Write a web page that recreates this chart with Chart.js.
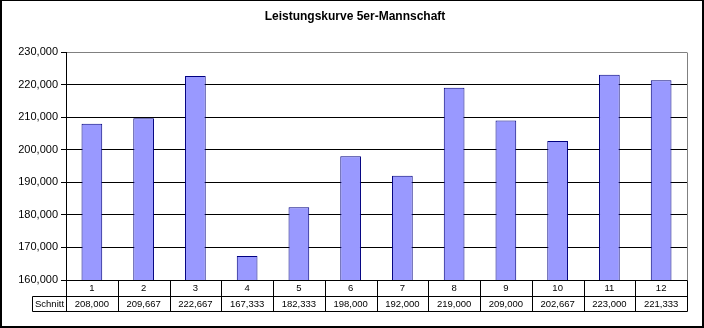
<!DOCTYPE html>
<html>
<head>
<meta charset="utf-8">
<script src="https://cdn.jsdelivr.net/npm/chart.js@4"></script>
<style>
  html, body { margin: 0; padding: 0; background: #fff; }
  #wrap { width: 704px; height: 328px; }
</style>
</head>
<body>
<div id="wrap"><canvas id="chart" width="704" height="328"></canvas></div>
<script>
// Daten
const categories = ['1', '2', '3', '4', '5', '6', '7', '8', '9', '10', '11', '12'];
const schnitt = [208000, 209667, 222667, 167333, 182333, 198000, 192000, 219000, 209000, 202667, 223000, 221333];
const seriesName = 'Schnitt';
const titleText = 'Leistungskurve 5er-Mannschaft';
const yMin = 160000, yMax = 230000, yStep = 10000;

// Farben
const C_BAR = '#9999FF';
const C_BAR_BORDER = '#000080';
const C_FRAME = '#808080';
const FONT = 'Arial, "Liberation Sans", sans-serif';

const fmt = v => v.toLocaleString('en-US');

// Titel, Rahmen und Datentabelle
const excelLook = {
  id: 'excelLook',
  afterDraw(chart) {
    const ctx = chart.ctx;
    const area = chart.chartArea;
    const xs = chart.scales.x;
    const half = (xs.getPixelForValue(1) - xs.getPixelForValue(0)) / 2;
    const crisp = p => Math.round(p) + 0.5;

    ctx.save();

    // Plotbereich rechts grau
    ctx.strokeStyle = C_FRAME;
    ctx.lineWidth = 1;
    ctx.beginPath();
    ctx.moveTo(crisp(area.right), crisp(area.top));
    ctx.lineTo(crisp(area.right), crisp(area.bottom));
    ctx.stroke();

    // Tabelle
    const row1 = area.bottom, row2 = 296, row3 = 311, labelLeft = 32;
    ctx.strokeStyle = '#000';
    ctx.beginPath();
    ctx.moveTo(crisp(area.left), crisp(row1));
    ctx.lineTo(crisp(area.right), crisp(row1));
    ctx.moveTo(crisp(labelLeft), crisp(row2));
    ctx.lineTo(crisp(area.right), crisp(row2));
    ctx.moveTo(crisp(labelLeft), crisp(row3));
    ctx.lineTo(crisp(area.right), crisp(row3));
    ctx.moveTo(crisp(labelLeft), crisp(row2));
    ctx.lineTo(crisp(labelLeft), crisp(row3));
    for (let i = 0; i <= categories.length; i++) {
      const bx = i < categories.length ? xs.getPixelForValue(i) - half : xs.getPixelForValue(i - 1) + half;
      ctx.moveTo(crisp(bx), crisp(row1));
      ctx.lineTo(crisp(bx), crisp(row3));
    }
    ctx.stroke();

    ctx.fillStyle = '#000';
    ctx.font = '9.5px ' + FONT;
    ctx.textAlign = 'center';
    ctx.textBaseline = 'middle';
    categories.forEach((c, i) => {
      const cx = xs.getPixelForValue(i);
      ctx.fillText(c, cx, (row1 + row2) / 2 + 0.5);
      ctx.fillText(fmt(schnitt[i]), cx, (row2 + row3) / 2 + 0.5);
    });
    ctx.fillText(seriesName, (labelLeft + area.left) / 2 + 0.5, (row2 + row3) / 2 + 0.5);

    // Titel
    ctx.font = 'bold 12px ' + FONT;
    ctx.fillText(titleText, 355, 17);

    // Aussenrahmen
    ctx.fillStyle = '#000';
    ctx.fillRect(0, 0, 704, 1);
    ctx.fillRect(0, 0, 2, 328);
    ctx.fillRect(702, 0, 2, 328);
    ctx.fillRect(0, 326, 704, 2);

    ctx.restore();
  }
};

new Chart(document.getElementById('chart'), {
  type: 'bar',
  data: {
    labels: categories,
    datasets: [{
      label: seriesName,
      data: schnitt,
      backgroundColor: C_BAR,
      borderColor: C_BAR_BORDER,
      borderWidth: 1,
      barPercentage: 0.4,
      categoryPercentage: 1.0
    }]
  },
  options: {
    responsive: false,
    animation: false,
    layout: { padding: { left: 0, top: 52, right: 17, bottom: 48 } },
    plugins: {
      legend: { display: false },
      title: { display: false },
      tooltip: { enabled: false }
    },
    scales: {
      x: { display: false, offset: true },
      y: {
        min: yMin,
        max: yMax,
        afterFit: s => { s.width = 66; },
        border: { display: true, color: '#000', width: 1 },
        grid: {
          color: c => (c.tick && c.tick.value === yMax ? C_FRAME : '#000'),
          tickColor: '#000',
          tickLength: 5,
          lineWidth: 1
        },
        ticks: {
          stepSize: yStep,
          color: '#000',
          padding: 3,
          font: { family: FONT, size: 11 },
          callback: v => fmt(v)
        }
      }
    }
  },
  plugins: [excelLook]
});
</script>
</body>
</html>
